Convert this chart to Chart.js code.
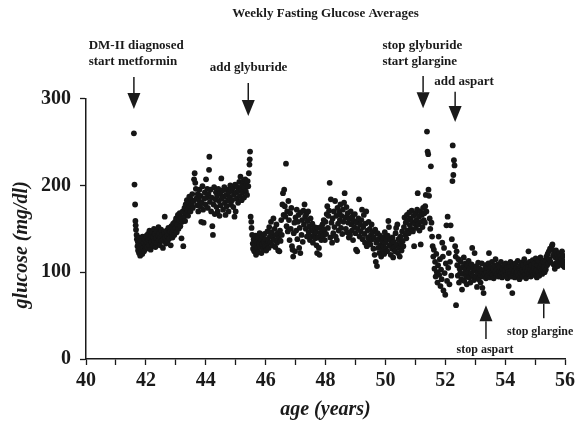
<!DOCTYPE html>
<html>
<head>
<meta charset="utf-8">
<script src="https://cdn.jsdelivr.net/npm/chart.js@4.4.1/dist/chart.umd.min.js"></script>
<style>
  html, body { margin: 0; padding: 0; background: #fff; }
  #wrap { width: 579px; height: 430px; }
</style>
</head>
<body>
<div id="wrap"><canvas id="glucose"></canvas></div>
<script>
// weekly fasting glucose, grouped by treatment phase
const metforminAge = [41.60,41.62,41.64,41.65,41.66,41.67,41.69,41.70,41.72,41.73,41.74,41.76,41.77,41.78,41.80,41.81,41.83,41.84,41.86,41.88,41.89,41.91,41.93,41.94,41.96,41.98,42.00,42.02,42.03,42.05,42.07,42.09,42.10,42.12,42.14,42.16,42.18,42.19,42.21,42.23,42.25,42.27,42.28,42.30,42.32,42.34,42.36,42.38,42.40,42.42,42.43,42.45,42.47,42.49,42.51,42.53,42.55,42.57,42.59,42.61,42.63,42.65,42.67,42.69,42.71,42.73,42.75,42.77,42.79,42.81,42.83,42.85,42.87,42.89,42.91,42.93,42.95,42.97,42.99,43.01,43.03,43.05,43.07,43.09,43.11,43.13,43.15,43.17,43.19,43.21,43.23,43.25,43.27,43.29,43.31,43.33,43.35,43.37,43.39,43.41,43.43,43.45,43.47,43.49,43.51,43.53,43.55,43.57,43.59,43.61,43.63,43.65,43.67,43.69,43.71,43.73,43.75,43.77,43.79,43.81,43.83,43.85,43.87,43.89,43.91,43.93,43.95,43.97,43.99,44.01,44.03,44.05,44.07,44.09,44.11,44.12,44.14,44.16,44.18,44.20,44.22,44.24,44.26,44.28,44.30,44.32,44.34,44.36,44.38,44.40,44.42,44.44,44.46,44.48,44.50,44.52,44.54,44.56,44.58,44.60,44.62,44.64,44.66,44.68,44.70,44.72,44.74,44.76,44.78,44.80,44.82,44.84,44.86,44.88,44.90,44.92,44.94,44.96,44.98,45.00,45.02,45.04,45.06,45.08,45.10,45.12,45.14,45.16,45.18,45.20,45.22,45.24,45.26,45.28,45.30,45.32,45.34,45.36,45.38,45.40,45.42,45.44,45.46,45.47,45.48];
const metforminGlucose = [260,201,178,159,154,149,143,138,130,135,125,140,122,132,128,119,136,126,131,121,141,128,134,124,138,130,127,142,135,129,144,137,131,148,139,126,142,135,146,131,140,150,136,144,129,139,147,134,142,152,137,145,131,140,149,136,143,128,138,146,164,140,133,148,142,136,151,144,139,147,131,153,145,140,156,149,143,158,151,162,146,155,166,150,160,168,153,163,139,158,170,130,164,174,159,178,168,183,172,165,180,187,176,170,184,178,190,174,182,207,214,203,196,185,177,190,170,183,195,176,188,158,180,199,172,157,185,192,178,207,186,196,174,190,218,233,181,195,170,186,153,143,178,198,167,184,192,175,188,170,196,182,165,191,177,208,185,194,172,187,198,180,166,189,176,195,183,170,192,186,200,178,194,183,197,175,189,164,201,170,192,185,198,180,194,204,188,210,196,183,200,192,205,186,198,207,193,201,189,205,199,214,224,230,239];

const glyburideAge = [45.50,45.52,45.53,45.55,45.57,45.58,45.60,45.62,45.64,45.66,45.68,45.70,45.72,45.74,45.76,45.78,45.80,45.82,45.84,45.86,45.88,45.90,45.92,45.94,45.96,45.98,46.00,46.02,46.04,46.06,46.08,46.10,46.12,46.14,46.16,46.18,46.20,46.22,46.24,46.26,46.28,46.30,46.32,46.34,46.36,46.38,46.40,46.42,46.44,46.46,46.48,46.50,46.52,46.54,46.56,46.58,46.60,46.62,46.64,46.66,46.68,46.70,46.72,46.74,46.76,46.78,46.80,46.82,46.84,46.86,46.88,46.90,46.92,46.94,46.96,46.98,47.00,47.02,47.04,47.06,47.08,47.10,47.12,47.14,47.16,47.18,47.20,47.22,47.24,47.26,47.28,47.30,47.32,47.34,47.36,47.38,47.40,47.42,47.44,47.46,47.48,47.50,47.52,47.54,47.56,47.58,47.60,47.62,47.64,47.66,47.68,47.70,47.72,47.74,47.76,47.78,47.80,47.82,47.84,47.86,47.88,47.90,47.92,47.94,47.96,47.98,48.00,48.02,48.04,48.06,48.08,48.10,48.12,48.14,48.16,48.18,48.20,48.22,48.24,48.26,48.28,48.30,48.32,48.34,48.36,48.38,48.40,48.42,48.44,48.46,48.48,48.50,48.52,48.54,48.56,48.58,48.60,48.62,48.64,48.66,48.68,48.70,48.72,48.74,48.76,48.78,48.80,48.82,48.84,48.86,48.88,48.90,48.92,48.94,48.96,48.98,49.00,49.02,49.04,49.06,49.08,49.10,49.12,49.14,49.16,49.18,49.20,49.22,49.24,49.26,49.28,49.30,49.32,49.34,49.36,49.38,49.40,49.42,49.44,49.46,49.48,49.50,49.52,49.54,49.56,49.58,49.60,49.62,49.64,49.66,49.68,49.70,49.72,49.74,49.76,49.78,49.80,49.82,49.84,49.86,49.88,49.90,49.92,49.94,49.96,49.98,50.00,50.02,50.04,50.06,50.08,50.10,50.12,50.14,50.16,50.18,50.20,50.22,50.24,50.26,50.28,50.30,50.32,50.34,50.36,50.38,50.40,50.42,50.44,50.46,50.48,50.50,50.52,50.54,50.56,50.58,50.60,50.62,50.64,50.66,50.68,50.70,50.72,50.74,50.76,50.78,50.80,50.82,50.84,50.86,50.88,50.90,50.92,50.94,50.96,50.98,51.00,51.02,51.04,51.06,51.08,51.10,51.12,51.14,51.16,51.18,51.20,51.22,51.24,51.26,51.28];
const glyburideGlucose = [164,158,151,143,133,127,138,124,131,142,120,135,128,140,123,133,145,129,137,122,132,141,127,135,144,130,138,125,133,147,136,128,152,141,134,158,146,131,140,162,137,150,129,143,155,134,145,125,139,124,148,136,160,143,178,191,166,195,176,164,225,153,170,147,182,160,137,168,150,174,130,126,118,145,157,124,163,148,172,138,158,166,128,151,122,169,143,160,135,171,155,178,164,150,167,141,159,170,146,153,137,162,148,141,156,134,149,143,152,139,146,131,122,151,140,128,120,145,152,137,147,155,142,160,149,137,158,144,167,176,151,165,171,203,140,184,157,134,162,145,170,152,182,141,165,137,174,156,148,169,160,178,151,165,144,172,158,180,191,163,150,175,146,168,157,140,162,143,170,155,148,164,137,159,152,167,145,126,157,124,150,162,184,141,155,147,160,172,138,152,166,144,134,156,170,130,148,140,158,135,150,132,143,155,138,146,127,140,120,149,112,134,107,145,128,138,122,142,131,118,136,126,140,130,121,146,134,127,138,124,142,159,152,131,137,120,133,127,140,117,135,129,124,145,151,132,155,122,138,128,118,141,133,125,147,136,130,152,163,143,157,139,166,148,160,145,169,154,162,150,171,158,147,165,130,156,168,151,160,172,191,155,164,148,170,132,158,166,152,174,160];

const glargineAge = [51.30,51.32,51.33,51.35,51.37,51.39,51.41,51.43,51.44,51.46,51.48,51.50,51.52,51.54,51.56,51.58,51.60,51.62,51.64,51.66,51.68,51.70,51.72,51.74,51.76,51.78,51.80,51.82,51.84,51.86,51.88,51.90,51.92,51.94,51.96,51.98,52.00,52.02,52.04,52.06,52.08,52.10,52.12,52.14,52.16,52.18,52.20,52.22,52.24,52.25,52.27,52.29,52.31];
const glargineGlucose = [168,157,176,189,170,262,239,236,195,188,162,150,222,157,141,130,118,126,104,112,95,121,100,88,108,141,97,115,84,103,92,134,118,79,128,99,74,110,154,90,164,105,122,86,112,154,96,138,205,246,212,229,223];

const aspartAge = [52.33,52.35,52.36,52.38,52.40,52.42,52.44,52.46,52.48,52.50,52.52,52.54,52.56,52.58,52.60,52.62,52.64,52.66,52.68,52.70,52.72,52.74,52.76,52.78,52.80,52.82,52.84,52.86,52.88,52.90,52.92,52.94,52.96,52.98,53.00,53.02,53.04,53.06,53.08,53.10,53.12,53.14,53.16,53.18,53.20,53.22,53.24,53.26,53.28,53.30,53.32,53.34,53.36];
const aspartGlucose = [130,118,62,124,108,96,115,88,104,99,112,92,80,106,98,117,90,103,110,95,86,108,100,113,94,105,88,99,109,128,96,104,91,122,102,94,107,83,99,111,92,104,97,88,101,110,82,95,76,103,98,108,93];

const noAspartAge = [53.38,53.40,53.42,53.44,53.46,53.48,53.50,53.52,53.54,53.56,53.58,53.60,53.62,53.64,53.66,53.68,53.70,53.72,53.74,53.76,53.78,53.80,53.82,53.84,53.86,53.88,53.90,53.92,53.94,53.96,53.98,54.00,54.02,54.04,54.06,54.08,54.10,54.12,54.14,54.16,54.18,54.20,54.22,54.24,54.26,54.28,54.30,54.32,54.34,54.36,54.38,54.40,54.42,54.44,54.46,54.48,54.50,54.52,54.54,54.56,54.58,54.60,54.62,54.64,54.66,54.68,54.70,54.72,54.74,54.76,54.78,54.80,54.82,54.84,54.86,54.88,54.90,54.92,54.94,54.96,54.98,55.00,55.02,55.04,55.06,55.08,55.10,55.12,55.14,55.16,55.18,55.20,55.22,55.24,55.26,55.28];
const noAspartGlucose = [100,105,96,110,122,101,94,106,99,112,97,104,93,108,100,115,96,103,98,109,95,101,106,97,112,100,94,104,99,108,96,102,110,97,105,93,100,84,107,98,112,95,103,76,99,108,101,94,110,98,105,100,113,96,104,92,107,99,111,102,95,108,100,115,97,104,93,110,101,106,124,98,112,103,95,108,100,114,97,105,110,99,116,102,94,108,100,113,96,105,117,101,109,98,104,112];

const noGlargineAge = [55.30,55.32,55.34,55.36,55.38,55.40,55.42,55.44,55.46,55.48,55.50,55.52,55.54,55.56,55.58,55.60,55.62,55.64,55.66,55.68,55.70,55.72,55.74,55.76,55.78,55.80,55.82,55.84,55.86,55.88,55.90,55.92,55.94,55.96,55.98];
const noGlargineGlucose = [106,100,114,103,118,108,121,110,124,115,127,112,126,130,132,119,109,122,104,117,125,111,120,107,116,122,113,118,110,115,124,108,119,113,106];

// treatment events: label lines, arrow age, arrow span in mg/dl
const events = [
  { lines: ['DM-II diagnosed', 'start metformin'], age: 41.60, from: 325, to: 288, textAge: 40.09, textY: 361.5, align: 'left', size: 13 },
  { lines: ['add glyburide'], age: 45.42, from: 318, to: 280, textAge: 45.43, textY: 336, align: 'center', size: 13 },
  { lines: ['stop glyburide', 'start glargine'], age: 51.26, from: 326, to: 289, textAge: 49.90, textY: 361.5, align: 'left', size: 13 },
  { lines: ['add aspart'], age: 52.33, from: 308, to: 273, textAge: 51.63, textY: 320, align: 'left', size: 13 },
  { lines: ['stop aspart'], age: 53.36, from: 23, to: 62, textAge: 53.33, textY: 10.5, align: 'center', size: 12 },
  { lines: ['stop glargine'], age: 55.29, from: 47, to: 82, textAge: 55.17, textY: 31, align: 'center', size: 12 }
];

const serif = '"Liberation Serif", "Times New Roman", serif';

function toPoints(ages, values) {
  return ages.map((a, i) => ({ x: a, y: values[i] }));
}

const allPoints = [].concat(
  toPoints(metforminAge, metforminGlucose),
  toPoints(glyburideAge, glyburideGlucose),
  toPoints(glargineAge, glargineGlucose),
  toPoints(aspartAge, aspartGlucose),
  toPoints(noAspartAge, noAspartGlucose),
  toPoints(noGlargineAge, noGlargineGlucose)
);

const annotate = {
  id: 'annotate',
  afterDraw(chart) {
    const ctx = chart.ctx;
    const xs = chart.scales.x, ys = chart.scales.y;
    ctx.save();
    ctx.fillStyle = '#1a1a1a';
    ctx.strokeStyle = '#1a1a1a';
    events.forEach(ev => {
      // arrow
      const x = xs.getPixelForValue(ev.age);
      const y0 = ys.getPixelForValue(ev.from);
      const y1 = ys.getPixelForValue(ev.to);
      const dir = y1 > y0 ? 1 : -1;
      const headLen = 16, headHalf = 6.5;
      ctx.lineWidth = 1.5;
      ctx.beginPath();
      ctx.moveTo(x, y0);
      ctx.lineTo(x, y1 - dir * headLen);
      ctx.stroke();
      ctx.beginPath();
      ctx.moveTo(x - headHalf, y1 - dir * headLen);
      ctx.lineTo(x + headHalf, y1 - dir * headLen);
      ctx.lineTo(x, y1);
      ctx.closePath();
      ctx.fill();
      // label
      ctx.font = 'bold ' + ev.size + 'px ' + serif;
      ctx.textAlign = ev.align;
      ctx.textBaseline = 'middle';
      const tx = xs.getPixelForValue(ev.textAge);
      let ty = ys.getPixelForValue(ev.textY);
      ev.lines.forEach(line => {
        ctx.fillText(line, tx, ty);
        ty += 16;
      });
    });
    // y axis title
    ctx.translate(22, (ys.top + ys.bottom) / 2 + 16);
    ctx.rotate(-Math.PI / 2);
    ctx.font = 'italic bold 20px ' + serif;
    ctx.textAlign = 'center';
    ctx.textBaseline = 'middle';
    ctx.fillText('glucose (mg/dl)', 0, 0);
    ctx.restore();
  }
};

new Chart(document.getElementById('glucose'), {
  type: 'scatter',
  data: {
    datasets: [{
      label: 'glucose',
      data: allPoints,
      backgroundColor: '#161616',
      borderWidth: 0,
      pointRadius: 2.9,
      pointHoverRadius: 2.9
    }]
  },
  options: {
    responsive: true,
    maintainAspectRatio: false,
    animation: false,
    layout: { padding: { left: 0, right: 13, top: 0, bottom: 0 } },
    plugins: {
      legend: { display: false },
      tooltip: { enabled: false },
      title: {
        display: true,
        fullSize: false,
        text: 'Weekly Fasting Glucose Averages',
        color: '#1a1a1a',
        font: { family: serif, size: 13, weight: 'bold' },
        padding: { top: 6, bottom: 77 }
      }
    },
    scales: {
      x: {
        type: 'linear',
        min: 40,
        max: 56,
        afterFit: s => { s.height = 71; },
        border: { color: '#1a1a1a', width: 1.5 },
        grid: { drawOnChartArea: false, tickLength: 6, tickColor: '#1a1a1a', tickWidth: 1.3 },
        ticks: {
          stepSize: 1,
          autoSkip: false,
          maxRotation: 0,
          padding: 4,
          color: '#1a1a1a',
          font: { family: serif, size: 20, weight: 'bold' },
          callback: v => (v % 2 === 0 ? v : '')
        },
        title: {
          display: true,
          text: 'age (years)',
          color: '#1a1a1a',
          font: { family: serif, size: 20, weight: 'bold', style: 'italic' },
          padding: { top: 0, bottom: 8 }
        }
      },
      y: {
        min: 0,
        max: 300,
        afterFit: s => { s.width = 86; },
        border: { color: '#1a1a1a', width: 1.5 },
        grid: { drawOnChartArea: false, tickLength: 6, tickColor: '#1a1a1a', tickWidth: 1.3 },
        ticks: {
          stepSize: 100,
          padding: 9,
          color: '#1a1a1a',
          font: { family: serif, size: 20, weight: 'bold' }
        }
      }
    }
  },
  plugins: [annotate]
});
</script>
</body>
</html>
